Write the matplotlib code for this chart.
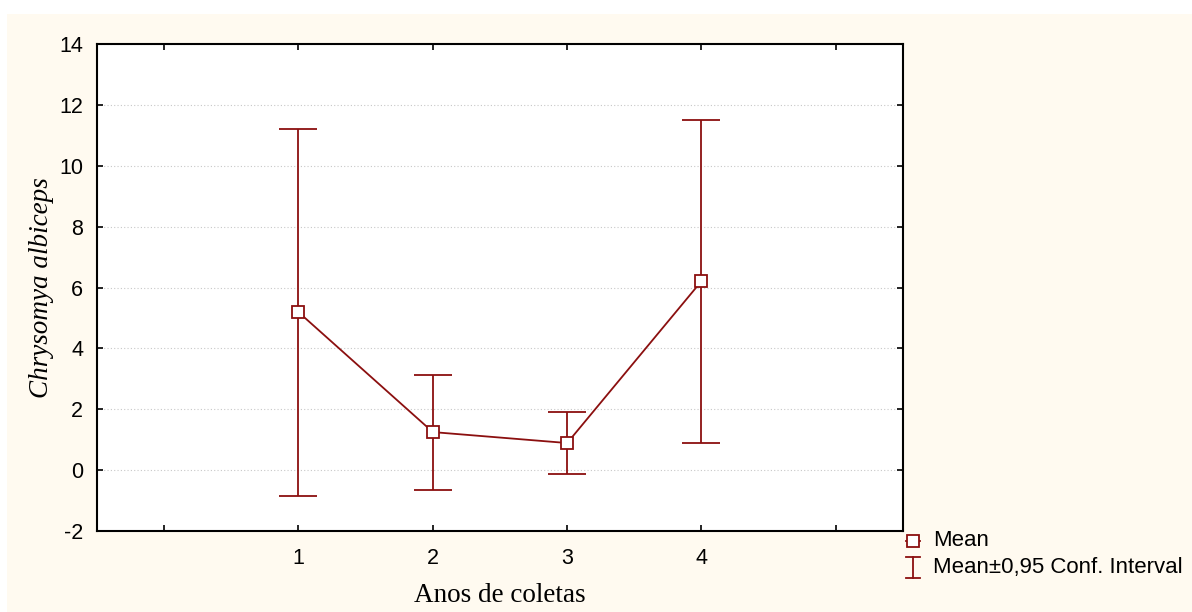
import numpy as np
import matplotlib.pyplot as plt
from matplotlib.patches import Rectangle
from matplotlib.lines import Line2D

plt.rcParams['axes.unicode_minus'] = False

# Mean and 95% confidence limits per collection year
anos = [1, 2, 3, 4]
media = [5.19, 1.25, 0.89, 6.21]
ic_sup = [11.21, 3.14, 1.91, 11.50]
ic_inf = [-0.85, -0.65, -0.13, 0.90]

cor = '#8b0f0f'
fundo = '#fffaf0'

fig = plt.figure(figsize=(11.92, 6.12), dpi=100)
fig.patch.set_facecolor('white')
fig.patches.append(Rectangle((7/1192, 0), 1 - 7/1192, 1 - 14/612,
                             transform=fig.transFigure, facecolor=fundo,
                             edgecolor='none', zorder=-10))

ax = fig.add_axes([97/1192, 1 - 531/612, 806/1192, 487/612])
ax.set_facecolor('white')

media = np.array(media)
err = [media - np.array(ic_inf), np.array(ic_sup) - media]
ax.errorbar(anos, media, yerr=err, fmt='none', ecolor=cor, elinewidth=1.3,
            capsize=14, capthick=1.3, zorder=2)
ax.plot(anos, media, color=cor, lw=1.3, marker='s', ms=9, mfc='white',
        mec=cor, mew=1.3, zorder=3)

ax.set_xlim(-0.5, 5.5)
ax.set_ylim(-2, 14)
ax.set_xticks([0, 1, 2, 3, 4, 5])
ax.set_xticklabels(['', '1', '2', '3', '4', ''])
ax.set_yticks(range(-2, 15, 2))
ax.yaxis.grid(True, color='#c8c8c8', ls=(0, (1, 2)), lw=0.8)
ax.set_axisbelow(True)

ax.tick_params(direction='in', length=4, width=1.2, top=True, right=True,
               labelsize=15.5)
ax.tick_params(axis='y', pad=10)
ax.tick_params(axis='x', pad=12)
for lab in ax.get_xticklabels() + ax.get_yticklabels():
    lab.set_fontfamily('Liberation Sans')
for s in ax.spines.values():
    s.set_linewidth(1.5)

ax.set_xlabel('Anos de coletas', family='Liberation Serif', fontsize=19.5,
              labelpad=10)
ax.set_ylabel('Chrysomya albiceps', family='Liberation Serif', fontsize=19.5,
              style='italic', labelpad=4)

# legend drawn by hand so the interval symbol keeps its caps
px = lambda x, y: (x / 1192, 1 - y / 612)
fig.add_artist(Line2D(*zip(px(906, 541), px(920, 541)), color=cor, lw=1.3,
                      transform=fig.transFigure))
fig.add_artist(Line2D(*zip(px(913, 541)), marker='s', ms=8, mfc='white',
                      mec=cor, mew=1.3, transform=fig.transFigure))
fig.add_artist(Line2D(*zip(px(913, 557), px(913, 578)), color=cor, lw=1.3,
                      transform=fig.transFigure))
for yy in (557, 578):
    fig.add_artist(Line2D(*zip(px(906, yy), px(920, yy)), color=cor, lw=1.3,
                          transform=fig.transFigure))
fig.text(*px(933, 541), 'Mean', family='Liberation Sans', fontsize=16,
         va='center', ha='left')
fig.text(*px(933, 568), 'Mean±0,95 Conf. Interval', family='Liberation Sans',
         fontsize=16, va='center', ha='left')

fig.savefig('out.png', dpi=100, facecolor=fig.get_facecolor())
